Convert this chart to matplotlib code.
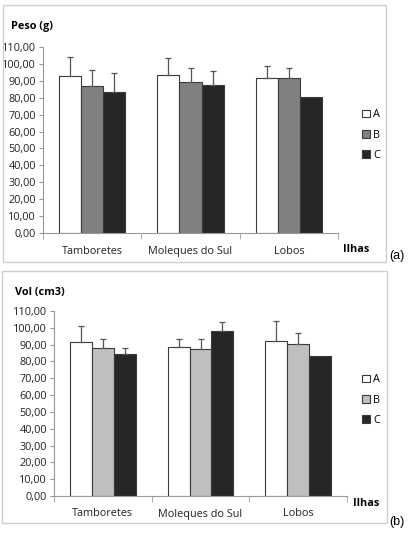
import matplotlib.pyplot as plt
import matplotlib.patches as mpatches
import numpy as np

# Data
islands = ["Tamboretes", "Moleques do Sul", "Lobos"]
groups = ["A", "B", "C"]

peso_A = [92.7, 93.3, 91.5]
peso_B = [87.1, 89.1, 91.5]
peso_C = [83.2, 87.7, 80.3]
peso_err_A = [11.2, 10.0, 7.4]
peso_err_B = [8.9, 8.3, 5.9]
peso_err_C = [11.2, 7.7, 0.0]

vol_A = [91.8, 88.6, 92.2]
vol_B = [88.2, 87.2, 90.2]
vol_C = [84.6, 98.3, 83.4]
vol_err_A = [9.3, 5.0, 11.9]
vol_err_B = [5.4, 6.4, 6.5]
vol_err_C = [3.6, 5.4, 0.0]

yticks = np.arange(0, 111, 10)

W, H = 408, 533
fig = plt.figure(figsize=(W / 100, H / 100), dpi=100)
plt.rcParams['font.family'] = ['Open Sans', 'DejaVu Sans']


def px_axes(x0, y_top, x1, y_bot):
    return fig.add_axes([x0 / W, 1 - y_bot / H, (x1 - x0) / W, (y_bot - y_top) / H])


def frame(x0, y0, x1, y1):
    fig.patches.append(mpatches.Rectangle((x0 / W, 1 - y1 / H), (x1 - x0) / W, (y1 - y0) / H,
                                          transform=fig.transFigure, fill=False,
                                          edgecolor="#cfcfcf", linewidth=1.0))


def panel(ax, vals, errs, colors, leg_y):
    x = np.arange(len(islands))
    w = 0.225
    handles = []
    for i, (v, e, c) in enumerate(zip(vals, errs, colors)):
        pos = x + (i - 1) * w
        b = ax.bar(pos, v, width=w, color=c, edgecolor="#3a3a3a", linewidth=0.8, zorder=2)
        # only draw error bars that exist
        e = np.array(e)
        keep = e > 0
        ax.errorbar(pos[keep], np.array(v)[keep], yerr=[np.zeros(keep.sum()), e[keep]],
                    fmt="none", ecolor="#555555", elinewidth=0.9, capsize=2,
                    capthick=0.9, zorder=3)
        handles.append(b)
    ax.set_xlim(-0.5, 2.5)
    ax.set_ylim(0, 110)
    ax.set_yticks(yticks)
    ax.set_yticklabels([f"{t:.2f}".replace(".", ",") for t in yticks], fontsize=7.8, color="#222222")
    ax.set_xticks(x)
    ax.set_xticklabels(islands, fontsize=7.8, color="#222222")
    ax.set_xticks([-0.5, 0.5, 1.5, 2.5], minor=True)
    ax.tick_params(axis="x", which="major", length=0, pad=9)
    ax.tick_params(axis="x", which="minor", length=4, color="#999999")
    ax.tick_params(axis="y", length=3, color="#999999", pad=2)
    for s in ["top", "right"]:
        ax.spines[s].set_visible(False)
    for s in ["left", "bottom"]:
        ax.spines[s].set_color("#999999")
        ax.spines[s].set_linewidth(0.8)
    fig.legend(handles, groups, loc="upper left", bbox_to_anchor=(357 / W, 1 - leg_y / H),
               frameon=False, fontsize=7.8, handlelength=0.7, handleheight=0.7,
               handletextpad=0.3, labelspacing=0.85, borderpad=0)


# panel (a)
frame(3, 5, 386, 262)
ax1 = px_axes(43, 46.7, 338, 233.3)
panel(ax1, [peso_A, peso_B, peso_C], [peso_err_A, peso_err_B, peso_err_C],
      ["white", "#808080", "#262626"], 104)
fig.text(11 / W, 1 - 27 / H, "Peso (g)", fontsize=7.8, fontweight="bold", va="center")
fig.text(343 / W, 1 - 249 / H, "Ilhas", fontsize=7.8, fontweight="bold", va="center")
fig.text(389 / W, 1 - 256 / H, "(a)", fontsize=9, family="Liberation Sans", va="center")

# panel (b)
frame(2, 271, 387, 523)
ax2 = px_axes(54, 311, 347, 496)
panel(ax2, [vol_A, vol_B, vol_C], [vol_err_A, vol_err_B, vol_err_C],
      ["white", "#bfbfbf", "#262626"], 369)
fig.text(15 / W, 1 - 293 / H, "Vol (cm3)", fontsize=7.8, fontweight="bold", va="center")
fig.text(353 / W, 1 - 504 / H, "Ilhas", fontsize=7.8, fontweight="bold", va="center")
fig.text(389 / W, 1 - 522 / H, "(b)", fontsize=9, family="Liberation Sans", va="center")

fig.savefig("out.png", dpi=100)
